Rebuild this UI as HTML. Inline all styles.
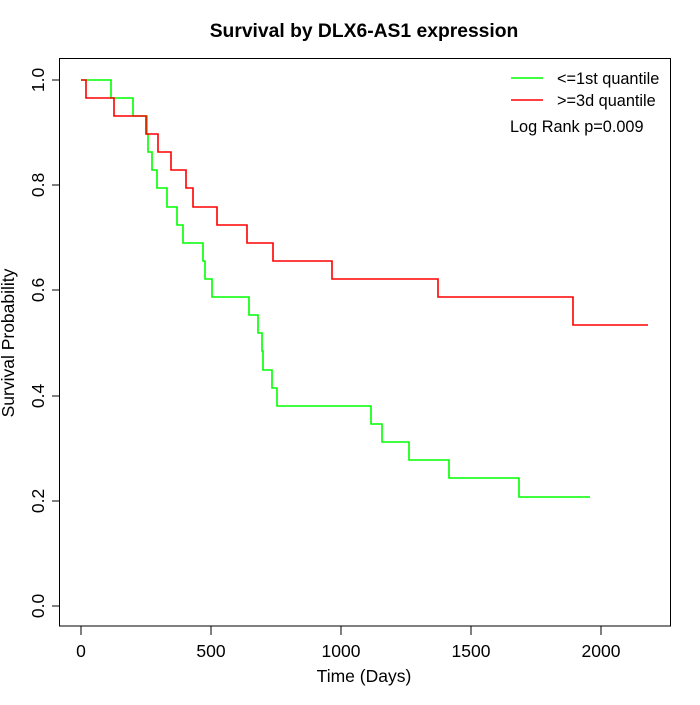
<!DOCTYPE html>
<html><head><style>body{margin:0;background:#fff}</style></head><body>
<svg width="700" height="700" xmlns="http://www.w3.org/2000/svg" font-family="Liberation Sans, sans-serif">
<rect width="700" height="700" fill="#fff"/>
<text x="364" y="37" font-size="19.3" font-weight="bold" text-anchor="middle">Survival by DLX6-AS1 expression</text>
<rect x="59.5" y="58.5" width="611" height="567.5" fill="none" stroke="#000" stroke-width="1"/>
<g stroke="#000" stroke-width="1" fill="none">
<path d="M81 626V635M211 626V635M341 626V635M471 626V635M601 626V635"/>
<path d="M59.5 80H52M59.5 185H52M59.5 290H52M59.5 396H52M59.5 501H52M59.5 606H52"/>
</g>
<g font-size="17.5" text-anchor="middle">
<text x="81" y="657">0</text><text x="211" y="657">500</text><text x="341" y="657">1000</text><text x="471" y="657">1500</text><text x="601" y="657">2000</text>
<text x="364" y="682">Time (Days)</text>
</g>
<g font-size="17.5" text-anchor="middle">
<text transform="translate(44,80) rotate(-90)">1.0</text>
<text transform="translate(44,185) rotate(-90)">0.8</text>
<text transform="translate(44,290) rotate(-90)">0.6</text>
<text transform="translate(44,396) rotate(-90)">0.4</text>
<text transform="translate(44,501) rotate(-90)">0.2</text>
<text transform="translate(44,606) rotate(-90)">0.0</text>
<text transform="translate(14,343) rotate(-90)">Survival Probability</text>
</g>
<path fill="none" stroke="#00ff00" stroke-width="1.6" d="M81 80H111V98H133V116H147V134H148V152H152V170H157V188H167V207H177V225H183V243H203V261H205V279H212V297H249V315H258V333H262V351H263V370H272V388H277V406H371V424H382V442H409V460H449V478H519V497H590"/>
<path fill="none" stroke="#ff0000" stroke-width="1.6" d="M81 80H86V98H114V116H146V134H158V152H171V170H186V188H193V207H217V225H247V243H273V261H332V279H438V297H573V325H648"/>
<line x1="511" y1="78" x2="543" y2="78" stroke="#00ff00" stroke-width="1.6"/>
<line x1="511" y1="100" x2="543" y2="100" stroke="#ff0000" stroke-width="1.6"/>
<g font-size="16.3">
<text x="557" y="84">&lt;=1st quantile</text>
<text x="557" y="106">&gt;=3d quantile</text>
<text x="510" y="132">Log Rank p=0.009</text>
</g>
</svg>
</body></html>
